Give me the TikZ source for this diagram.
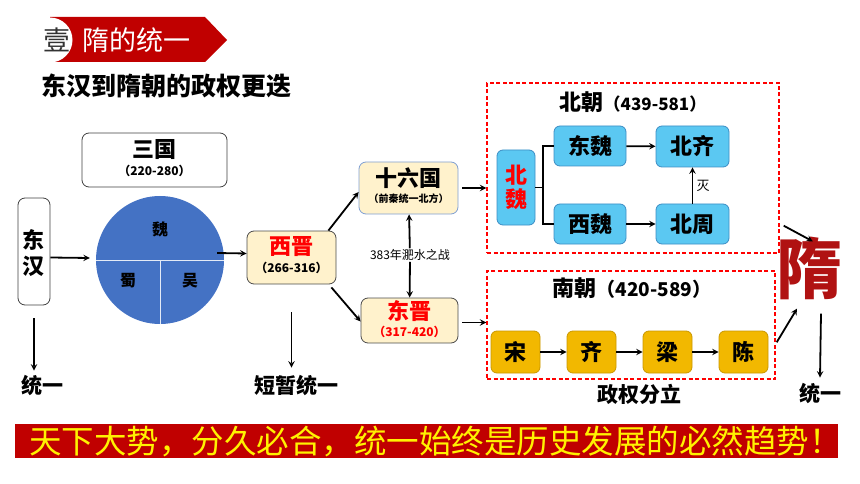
\documentclass[tikz,border=0pt]{standalone}
\usepackage{fontspec}
\setmainfont{Noto Sans CJK SC}
\usepackage{xcolor}
\usepackage{tikz}
\usetikzlibrary{shapes.geometric, arrows, positioning}

\definecolor{banred}{HTML}{C00000}
\definecolor{piefill}{HTML}{4472C4}
\definecolor{creamfill}{HTML}{FFF2CC}
\definecolor{skyfill}{HTML}{5BC8F2}
\definecolor{skyline}{HTML}{3C8DC4}
\definecolor{goldfill}{HTML}{F2B800}
\definecolor{goldline}{HTML}{C99700}
\definecolor{paleline}{HTML}{7F9FD3}
\definecolor{suired}{HTML}{B01212}
\newcommand{\fsz}[1]{\fontsize{#1}{#1}\selectfont}

\begin{document}
\begin{tikzpicture}[x=1pt, y=-1pt,
    arrow/.style={->, >=stealth, line width=1.8pt},
    link/.style={line width=1.8pt},
    plainbox/.style={rectangle, rounded corners=7pt, draw=black!75, fill=white, line width=0.8pt, inner sep=0pt},
    creambox/.style={rectangle, rounded corners=7pt, draw=black!70, fill=creamfill, line width=0.8pt, inner sep=0pt},
    skybox/.style={rectangle, rounded corners=6pt, draw=skyline, fill=skyfill, line width=0.8pt, inner sep=0pt, font=\fsz{22}\bfseries},
    goldbox/.style={rectangle, rounded corners=6pt, draw=goldline, fill=goldfill, line width=0.8pt, minimum width=49, minimum height=42, inner sep=0pt, font=\fsz{22}\bfseries},
    frame/.style={rectangle, draw=red, dash pattern=on 4pt off 2.5pt, line width=1.4pt, inner sep=0pt},
    bigtext/.style={font=\fsz{22}\bfseries, inner sep=0pt},
    yeartext/.style={font=\fsz{12}\bfseries, inner sep=0pt},
    endtext/.style={font=\fsz{21}\bfseries, inner sep=0pt}
]
\useasboundingbox (0,0) rectangle (860,484);

% header
\fill[banred] (50,17) -- (205,17) -- (227,40) -- (205,62) -- (50,62) -- cycle;
\fill[white] (50,40) circle (22.5);
\node[font=\fsz{27}, text=black!80, inner sep=0pt] (num) at (57,40) {壹};
\node[font=\fsz{27}, text=white, inner sep=0pt, anchor=west] (head) at (82,40) {隋的统一};
\node[font=\fsz{25}\bfseries, inner sep=0pt, anchor=west] (title) at (41,86) {东汉到隋朝的政权更迭};

% Eastern Han and Three Kingdoms
\node[plainbox, minimum width=32, minimum height=107] (donghan) at (34,251.5) {};
\node[font=\fsz{22}\bfseries, align=center, inner sep=0pt] (donghantxt) at (34,253) {东\\[4pt]汉};
\node[plainbox, minimum width=145, minimum height=54] (sanguo) at (154.5,160) {};
\node[bigtext] (sanguoname) at (154.5,150) {三国};
\node[yeartext] (sanguoyear) at (154.5,171) {（220-280）};
\node[circle, fill=piefill, minimum size=128, inner sep=0pt] (pie) at (160,260) {};
\draw[white!85!piefill, line width=0.8pt] (pie.west) -- (pie.east);
\draw[white!85!piefill, line width=0.8pt] (pie.center) -- (pie.south);
\node[font=\fsz{16}\bfseries] (wei) at (160,229) {魏};
\node[font=\fsz{16}\bfseries] (shu) at (128,281) {蜀};
\node[font=\fsz{16}\bfseries] (wu) at (190,281) {吴};

% Jin
\node[creambox, minimum width=89, minimum height=53] (xijin) at (291.5,257.5) {};
\node[bigtext, text=red] (xijinname) at (291.5,247) {西晋};
\node[yeartext] (xijinyear) at (291.5,268) {（266-316）};
\node[creambox, draw=paleline, minimum width=99, minimum height=52] (shiliu) at (408.5,188) {};
\node[bigtext] (shiliuname) at (408.5,178) {十六国};
\node[font=\fsz{10}\bfseries, inner sep=0pt] (shiliunote) at (408.5,199) {（前秦统一北方）};
\node[creambox, minimum width=97, minimum height=45] (dongjin) at (409.5,320.5) {};
\node[bigtext, text=red] (dongjinname) at (409.5,311) {东晋};
\node[yeartext, text=red] (dongjinyear) at (409.5,332) {（317-420）};
\node[font=\fsz{12}, inner sep=1pt] (feishui) at (410,255) {383年淝水之战};

% Northern dynasties
\node[frame, minimum width=292, minimum height=170] (north) at (633,168) {};
\node[font=\fsz{22}\bfseries, inner sep=0pt] (northname) at (633,102) {北朝{\fsz{17}（439-581）}};
\node[skybox, text=red, minimum width=38, minimum height=75, align=center] (beiwei) at (516,187.5) {北\\[2pt]魏};
\node[skybox, minimum width=72, minimum height=40] (dongwei) at (590,146) {东魏};
\node[skybox, minimum width=73, minimum height=41] (beiqi) at (692.5,146.5) {北齐};
\node[skybox, minimum width=72, minimum height=40] (xiwei) at (590,224) {西魏};
\node[skybox, minimum width=73, minimum height=40] (beizhou) at (692.5,224) {北周};
\coordinate (fork) at (543,187.5);

% Southern dynasties
\node[frame, minimum width=288, minimum height=108] (south) at (631,325) {};
\node[font=\fsz{22}\bfseries, inner sep=0pt] (southname) at (632,288) {南朝{\fsz{19}（420-589）}};
\node[goldbox] (song) at (515.5,352) {宋};
\node[goldbox] (qi) at (591.5,352) {齐};
\node[goldbox] (liang) at (667.5,352) {梁};
\node[goldbox] (chen) at (743.5,352) {陈};

% Sui
\node[font=\fsz{66}\bfseries, text=suired, inner sep=0pt] (sui) at (809,268) {隋};

% bottom labels
\node[endtext] (tongyi1) at (42,385) {统一};
\node[endtext] (duanzan) at (296,385) {短暂统一};
\node[endtext] (fenli) at (639,394) {政权分立};
\node[endtext] (tongyi2) at (820,393) {统一};

% connectors
\draw[arrow] ([yshift=-6pt]donghan.east) -- ([xshift=-6pt,yshift=2pt]pie.west);
\draw[arrow] ([xshift=-7pt,yshift=7pt]pie.east) -- ([yshift=4pt]xijin.west);
\draw[arrow] ([xshift=-8pt]xijin.north east) -- ([yshift=-4pt]shiliu.west);
\draw[arrow] ([xshift=-5pt,yshift=-3pt]xijin.south east) -- ([yshift=-1pt]dongjin.west);
\draw[arrow] (feishui) -- (shiliu);
\draw[arrow] (feishui) -- (dongjin);
\draw[arrow] ([xshift=4pt]shiliu.east) -- (shiliu.east -| north.west);
\draw[arrow] ([xshift=4pt,yshift=-2pt]dongjin.east) -- ([yshift=-2pt]dongjin.east -| south.west);
\draw[link] (beiwei) -- (fork);
\draw[link] (dongwei.west) -| (fork) |- (xiwei.west);
\draw[arrow] (dongwei) -- (beiqi);
\draw[arrow] (xiwei) -- (beizhou);
\draw[arrow] (beizhou) -- node[right, font=\fsz{13}] (mie) {灭} (beiqi);
\draw[arrow] (song) -- (qi);
\draw[arrow] (qi) -- (liang);
\draw[arrow] (liang) -- (chen);
\draw[arrow] ([xshift=4pt,yshift=28pt]north.south east) -- ([xshift=37pt,yshift=-5pt]sui.north west);
\draw[arrow] ([xshift=1pt,yshift=-72pt]south.north east) -- ([xshift=-12pt,yshift=-9pt]sui.south);
\draw[arrow] ([yshift=-13pt]donghan.south) -- ([yshift=4pt]tongyi1.north -| donghan.south);
\draw[arrow] ([yshift=-28pt]xijin.south) -- ([yshift=7pt]duanzan.north -| xijin.south);
\draw[arrow] ([xshift=12pt,yshift=-14pt]sui.south) -- ([yshift=5pt]tongyi2.north);

% motto
\node[rectangle, fill=banred, minimum width=823, minimum height=34, inner sep=0pt] (motto) at (426.5,441) {};
\node[font=\fsz{32.5}, text=yellow, inner sep=0pt, anchor=west] (mottotxt) at (29,441) {天下大势，分久必合，统一始终是历史发展的必然趋势！};
\end{tikzpicture}
\end{document}
